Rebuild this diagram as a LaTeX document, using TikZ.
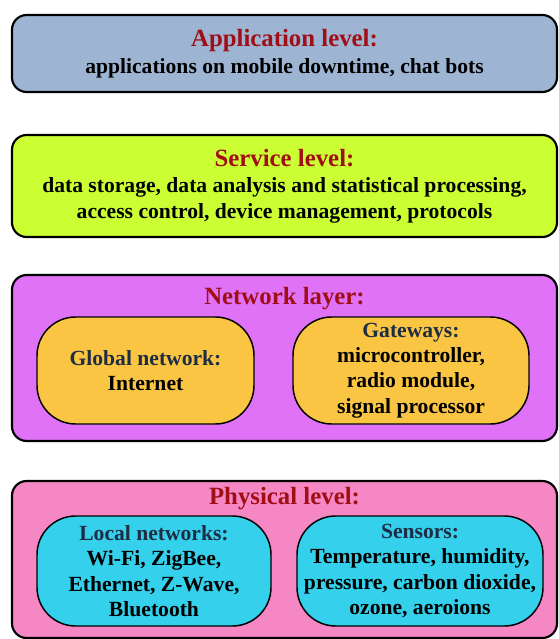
\documentclass[tikz,border=0pt]{standalone}
\usepackage{fontspec}
\setmainfont{Liberation Serif}

\definecolor{appfill}{RGB}{157,181,210}
\definecolor{servfill}{RGB}{204,255,51}
\definecolor{netfill}{RGB}{224,114,248}
\definecolor{physfill}{RGB}{245,136,196}
\definecolor{orangefill}{RGB}{249,197,66}
\definecolor{cyanfill}{RGB}{52,208,236}
\definecolor{titlered}{RGB}{160,14,22}
\definecolor{headslate}{RGB}{30,45,68}

\newcommand{\bodyfont}{\fontsize{16.2}{19}\selectfont\bfseries}
\newcommand{\leveltitle}[1]{{\fontsize{18.6}{19.5}\selectfont\color{titlered}#1}}
\newcommand{\subhead}[1]{{\color{headslate}#1}}

\begin{document}
\begin{tikzpicture}[x=0.75pt,y=-0.75pt,
  level/.style={draw=black, line width=1.6pt, rounded corners=11pt,
    inner sep=0pt, outer sep=0pt, align=center, font=\bodyfont,
    minimum width=408.75pt},
  pill/.style={draw=black, line width=1.1pt, rounded corners=29pt,
    inner sep=0pt, outer sep=0pt, align=center, font=\bodyfont,
    minimum height=80.25pt},
  heading/.style={inner sep=0pt, font=\bfseries\fontsize{18.6}{19.5}\selectfont,
    text=titlered}]
  \useasboundingbox (0,0) rectangle (558,639);

  % Application level
  \node[level, fill=appfill, minimum height=57.75pt] (app) at (284.5,53.5)
    {\leveltitle{Application level:}\\[1.5pt]applications on mobile downtime, chat bots};

  % Service level
  \node[level, fill=servfill, minimum height=76.5pt] (serv) at (284.5,186)
    {\leveltitle{Service level:}\\[1pt]data storage, data analysis and statistical processing,\\access control, device management, protocols};

  % Network layer with its two parts
  \node[level, fill=netfill, minimum height=124.5pt] (net) at (284.5,358) {};
  \node[heading] (nettitle) at (284.5,298.5) {Network layer:};
  \node[pill, fill=orangefill, minimum width=162.75pt] (glob) at (145.5,370.5)
    {\subhead{Global network:}\\Internet};
  \node[pill, fill=orangefill, minimum width=177pt] (gate) at (411,370.5)
    {\subhead{Gateways:}\\microcontroller,\\radio module,\\signal processor};

  % Physical level with its two parts
  \node[level, fill=physfill, minimum height=117.75pt] (phys) at (284.5,559.5) {};
  \node[heading] (phystitle) at (284.5,498.5) {Physical level:};
  \node[pill, fill=cyanfill, minimum width=175.5pt, minimum height=82.5pt] (loc) at (154,571)
    {\subhead{Local networks:}\\Wi-Fi, ZigBee,\\Ethernet, Z-Wave,\\Bluetooth};
  \node[pill, fill=cyanfill, minimum width=184.5pt, minimum height=82.5pt] (sens) at (420,571)
    {\subhead{Sensors:}\\Temperature, humidity,\\pressure, carbon dioxide,\\ozone, aeroions};
\end{tikzpicture}
\end{document}
